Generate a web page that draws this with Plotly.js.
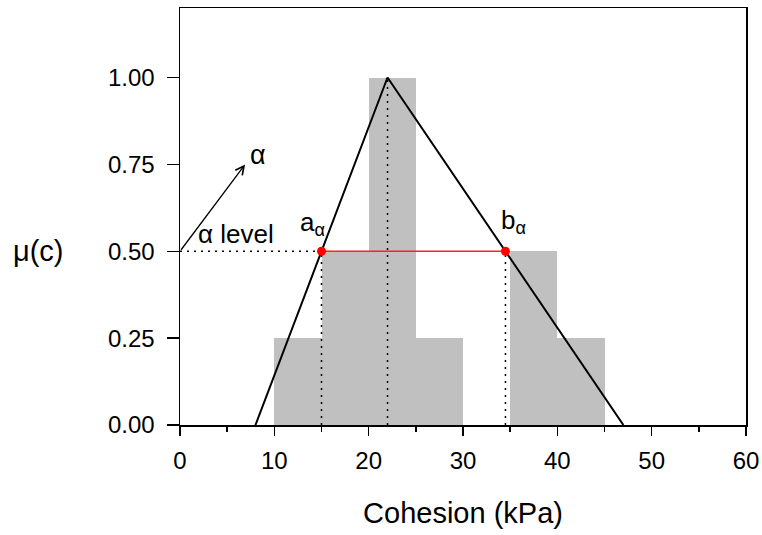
<!DOCTYPE html>
<html>
<head>
<meta charset="utf-8">
<script src="https://cdn.plot.ly/plotly-3.0.1.min.js"></script>
<style>html,body{margin:0;padding:0;background:#fff;}</style>
</head>
<body>
<div id="chart" style="width:762px;height:535px;"></div>
<script>
// Histogram of cohesion values (bin left edges, bin width, relative frequency)
const binStarts = [10, 15, 20, 25, 30, 35, 40];
const binWidth = 5;
const binHeights = [0.25, 0.5, 1.0, 0.25, 0, 0.5, 0.25];

// Triangular fuzzy number (cohesion, membership)
const triX = [8, 22, 47];
const triY = [0, 1, 0];

// Alpha-cut
const alphaLevel = 0.5;
const aAlpha = 15;
const bAlpha = 34.5;
const peakX = 22;

// Axis ticks
const xTicks = [0, 10, 20, 30, 40, 50, 60];
const yTicks = [0, 0.25, 0.5, 0.75, 1.0];

const FONT = 'Liberation Sans, Arial, sans-serif';
const dotStyle = {color: 'black', width: 1.5, dash: '2px,5px'};

const binCenters = binStarts.map(s => s + binWidth / 2);

const traces = [
  {type: 'bar', x: binCenters, y: binHeights, width: binWidth,
   marker: {color: '#c0c0c0', line: {width: 0}}, hoverinfo: 'skip'},
  {type: 'scatter', mode: 'lines', x: [0, aAlpha], y: [alphaLevel, alphaLevel], line: dotStyle},
  {type: 'scatter', mode: 'lines', x: [aAlpha, aAlpha], y: [0, alphaLevel], line: dotStyle},
  {type: 'scatter', mode: 'lines', x: [peakX, peakX], y: [0, 1], line: dotStyle},
  {type: 'scatter', mode: 'lines', x: [bAlpha, bAlpha], y: [0, alphaLevel], line: dotStyle},
  {type: 'scatter', mode: 'lines', x: triX, y: triY, line: {color: 'black', width: 2}},
  {type: 'scatter', mode: 'lines+markers', x: [aAlpha, bAlpha], y: [alphaLevel, alphaLevel],
   line: {color: '#ff2020', width: 1.5}, marker: {color: '#ff0000', size: 9}}
];

const layout = {
  width: 762, height: 535,
  margin: {l: 180, r: 16, t: 8, b: 110},
  paper_bgcolor: 'white', plot_bgcolor: 'white',
  showlegend: false,
  bargap: 0,
  font: {family: FONT, size: 24, color: 'black'},
  xaxis: {
    range: [0, 60], tickvals: xTicks, ticks: 'outside', ticklen: 9, tickwidth: 1.5,
    tickcolor: 'black', showline: true, linecolor: 'black', linewidth: 1.5, mirror: true,
    showgrid: false, zeroline: false, ticklabelstandoff: 5,
    minor: {dtick: 5, ticks: 'outside', ticklen: 5, tickwidth: 1.5, tickcolor: 'black', showgrid: false},
    title: {text: 'Cohesion (kPa)', font: {size: 29}, standoff: 29}
  },
  yaxis: {
    range: [0, 1.2], tickvals: yTicks, tickformat: '.2f', ticks: 'outside', ticklen: 12, tickwidth: 1.5,
    tickcolor: 'black', showline: true, linecolor: 'black', linewidth: 1.5, mirror: true,
    showgrid: false, zeroline: false, ticklabelstandoff: 7
  },
  annotations: [
    {xref: 'paper', yref: 'y', x: -0.25, y: 0.5, text: 'μ(c)', showarrow: false,
     font: {size: 29}, xanchor: 'center', yanchor: 'middle'},
    {xref: 'x', yref: 'y', x: 6.9, y: 0.75, ax: 0, ay: alphaLevel, axref: 'x', ayref: 'y',
     text: '', showarrow: true, arrowhead: 5, arrowsize: 1.3, arrowwidth: 1.3, arrowcolor: 'black'},
    {xref: 'x', yref: 'y', x: 8.3, y: 0.778, text: 'α', showarrow: false, font: {size: 27}},
    {xref: 'x', yref: 'y', x: 5.95, y: 0.55, text: 'α level', showarrow: false, font: {size: 26}},
    {xref: 'x', yref: 'y', x: 14.0, y: 0.58, text: 'a<sub>α</sub>', showarrow: false, font: {size: 26}},
    {xref: 'x', yref: 'y', x: 35.3, y: 0.585, text: 'b<sub>α</sub>', showarrow: false, font: {size: 26}}
  ]
};

Plotly.newPlot('chart', traces, layout, {displayModeBar: false, staticPlot: true});
</script>
</body>
</html>
